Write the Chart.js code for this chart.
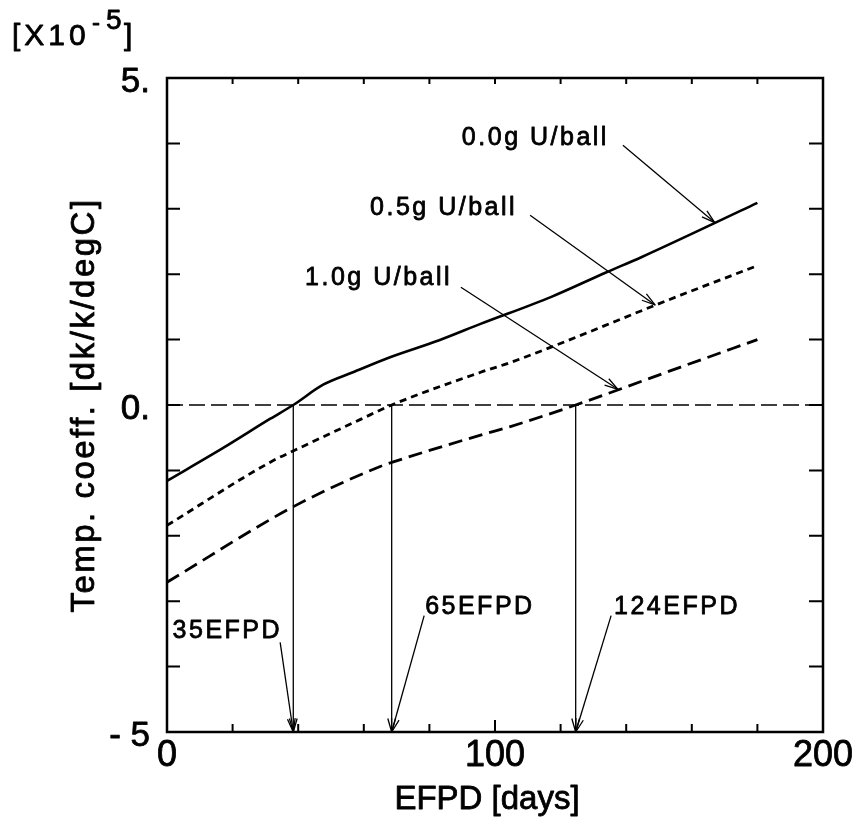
<!DOCTYPE html>
<html>
<head>
<meta charset="utf-8">
<script src="https://cdn.jsdelivr.net/npm/chart.js@4.4.1/dist/chart.umd.min.js"></script>
<style>
  body { margin: 0; background: #fff; }
</style>
</head>
<body>
<canvas id="chart" width="858" height="837"></canvas>
<script>
// EFPD [days] vs temperature coefficient [x10^-5 dk/k/degC]
const days00 = [0, 17, 31.5, 38.5, 47.6, 56.7, 68, 83, 95.6, 117, 134, 144.6, 180];
const coef00 = [-1.16, -0.66, -0.21, 0, 0.31, 0.5, 0.73, 0.99, 1.24, 1.65, 2.03, 2.26, 3.09];

const days05 = [0, 32, 38.6, 59, 68.5, 95.6, 104.7, 156.6, 180];
const coef05 = [-1.84, -0.86, -0.7, -0.22, 0, 0.5, 0.65, 1.68, 2.13];

const days10 = [0, 38.7, 65, 69, 95.6, 104.7, 124.6, 156.6, 180];
const coef10 = [-2.71, -1.55, -0.94, -0.87, -0.46, -0.33, 0, 0.58, 1.0];

const seriesNames = ["0.0g U/ball", "0.5g U/ball", "1.0g U/ball"];

// zero crossings marked with arrows
const crossDays = [38.5, 68.5, 124.6];
const crossLabels = ["35EFPD", "65EFPD", "124EFPD"];

const xTicks = [0, 20, 40, 60, 80, 100, 120, 140, 160, 180, 200];
const xTickLabels = { 0: "0", 100: "100", 200: "200" };
const yTicks = [-5, -4, -3, -2, -1, 0, 1, 2, 3, 4, 5];
const yTickLabels = { 5: "5.", 0: "0.", "-5": "- 5" };

// annotation text + leader arrows, in data units
const curveNotes = [
  { text: seriesNames[0], tx: 89.9, ty: 3.97, from: [139.0, 3.97], to: [167, 2.79] },
  { text: seriesNames[1], tx: 61.9, ty: 2.90, from: [110.7, 2.90], to: [148.8, 1.53] },
  { text: seriesNames[2], tx: 42.1, ty: 1.83, from: [89.6, 1.80], to: [137.5, 0.24] }
];
const dayNotes = [
  { tx: 1.7, ty: -3.57, from: [34.5, -3.63] },
  { tx: 78.7, ty: -3.19, from: [78.4, -3.22] },
  { tx: 136.3, ty: -3.19, from: [135.4, -3.22] }
];

const FONT = "'Liberation Sans', Arial, sans-serif";

function pts(xs, ys) {
  return xs.map((x, i) => ({ x: x, y: ys[i] }));
}

// scanned text looks heavier than plain regular weight
function txt(ctx, s, x, y) {
  ctx.fillText(s, x, y);
  ctx.strokeText(s, x, y);
}

function arrow(ctx, x1, y1, x2, y2) {
  ctx.beginPath();
  ctx.moveTo(x1, y1);
  ctx.lineTo(x2, y2);
  ctx.stroke();
  const a = Math.atan2(y2 - y1, x2 - x1), len = 14, w = 0.28;
  ctx.beginPath();
  ctx.moveTo(x2 - len * Math.cos(a - w), y2 - len * Math.sin(a - w));
  ctx.lineTo(x2, y2);
  ctx.lineTo(x2 - len * Math.cos(a + w), y2 - len * Math.sin(a + w));
  ctx.stroke();
}

const decor = {
  id: "decor",
  afterDraw(chart) {
    const ctx = chart.ctx, xs = chart.scales.x, ys = chart.scales.y;
    const ca = chart.chartArea;
    const X = v => xs.getPixelForValue(v), Y = v => ys.getPixelForValue(v);
    ctx.save();
    ctx.strokeStyle = "#000";
    ctx.fillStyle = "#000";

    // frame
    ctx.lineWidth = 2.5;
    ctx.strokeRect(ca.left, ca.top, ca.right - ca.left, ca.bottom - ca.top);

    // inward ticks
    ctx.lineWidth = 2;
    ctx.beginPath();
    xTicks.forEach(t => {
      const p = X(t), l = t === 100 ? 12 : 8;
      ctx.moveTo(p, ca.bottom); ctx.lineTo(p, ca.bottom - l);
      ctx.moveTo(p, ca.top); ctx.lineTo(p, ca.top + 6);
    });
    yTicks.forEach(t => {
      const p = Y(t);
      ctx.moveTo(ca.left, p); ctx.lineTo(ca.left + 13, p);
      ctx.moveTo(ca.right, p); ctx.lineTo(ca.right - 14, p);
    });
    ctx.stroke();

    ctx.lineWidth = 0.8;
    ctx.lineJoin = "round";

    // tick labels
    ctx.font = "36px " + FONT;
    ctx.textAlign = "center";
    ctx.textBaseline = "top";
    xTicks.forEach(t => {
      if (xTickLabels[t] !== undefined) txt(ctx, xTickLabels[t], X(t), ca.bottom + 6);
    });
    ctx.font = "35px " + FONT;
    ctx.textAlign = "right";
    ctx.textBaseline = "middle";
    yTicks.forEach(t => {
      if (yTickLabels[t] !== undefined) txt(ctx, yTickLabels[t], 150, Y(t) + 4);
    });

    // axis titles
    ctx.font = "33px " + FONT;
    ctx.letterSpacing = "0px";
    ctx.textAlign = "center";
    ctx.textBaseline = "alphabetic";
    txt(ctx, "EFPD [days]", 487, 809);
    ctx.save();
    ctx.translate(94, (ca.top + ca.bottom) / 2);
    ctx.rotate(-Math.PI / 2);
    ctx.letterSpacing = "2.5px";
    txt(ctx, "Temp. coeff. [dk/k/degC]", 0, 0);
    ctx.restore();

    // multiplier
    ctx.font = "30px " + FONT;
    ctx.letterSpacing = "4px";
    ctx.textAlign = "left";
    txt(ctx, "[X10", 12, 45);
    ctx.letterSpacing = "0px";
    ctx.font = "24px " + FONT;
    txt(ctx, "-", 92, 30);
    ctx.font = "28px " + FONT;
    txt(ctx, "5", 106, 29);
    ctx.font = "30px " + FONT;
    txt(ctx, "]", 124, 45);

    // annotations
    ctx.font = "25px " + FONT;
    ctx.letterSpacing = "2.5px";
    curveNotes.forEach(n => {
      ctx.lineWidth = 0.8;
      txt(ctx, n.text, X(n.tx), Y(n.ty));
      ctx.lineWidth = 1.3;
      arrow(ctx, X(n.from[0]), Y(n.from[1]), X(n.to[0]), Y(n.to[1]));
    });
    dayNotes.forEach((n, i) => {
      ctx.lineWidth = 0.8;
      txt(ctx, crossLabels[i], X(n.tx), Y(n.ty));
      ctx.lineWidth = 1.3;
      arrow(ctx, X(n.from[0]), Y(n.from[1]), X(crossDays[i]), Y(-5));
      arrow(ctx, X(crossDays[i]), Y(0), X(crossDays[i]), Y(-5));
    });
    ctx.restore();
  }
};

const datasets = [
  { label: seriesNames[0], data: pts(days00, coef00), borderColor: "#000", borderWidth: 2.6 },
  { label: seriesNames[1], data: pts(days05, coef05), borderColor: "#000", borderWidth: 2.8, borderDash: [7, 5] },
  { label: seriesNames[2], data: pts(days10, coef10), borderColor: "#000", borderWidth: 2.8, borderDash: [14, 7] },
  { label: "zero", data: pts([0, 200], [0, 0]), borderColor: "#000", borderWidth: 1.3, borderDash: [16, 6] }
];

new Chart(document.getElementById("chart").getContext("2d"), {
  type: "line",
  data: { datasets: datasets },
  plugins: [decor],
  options: {
    responsive: false,
    animation: false,
    devicePixelRatio: 1,
    layout: { padding: { left: 0, top: 78, right: 35, bottom: 0 } },
    elements: { point: { radius: 0 }, line: { cubicInterpolationMode: "monotone", fill: false } },
    plugins: { legend: { display: false }, tooltip: { enabled: false } },
    scales: {
      x: {
        type: "linear", min: 0, max: 200,
        ticks: { display: false },
        grid: { display: false },
        border: { display: false },
        afterFit: s => { s.height = 105; }
      },
      y: {
        min: -5, max: 5,
        ticks: { display: false },
        grid: { display: false },
        border: { display: false },
        afterFit: s => { s.width = 167; }
      }
    }
  }
});
</script>
</body>
</html>
